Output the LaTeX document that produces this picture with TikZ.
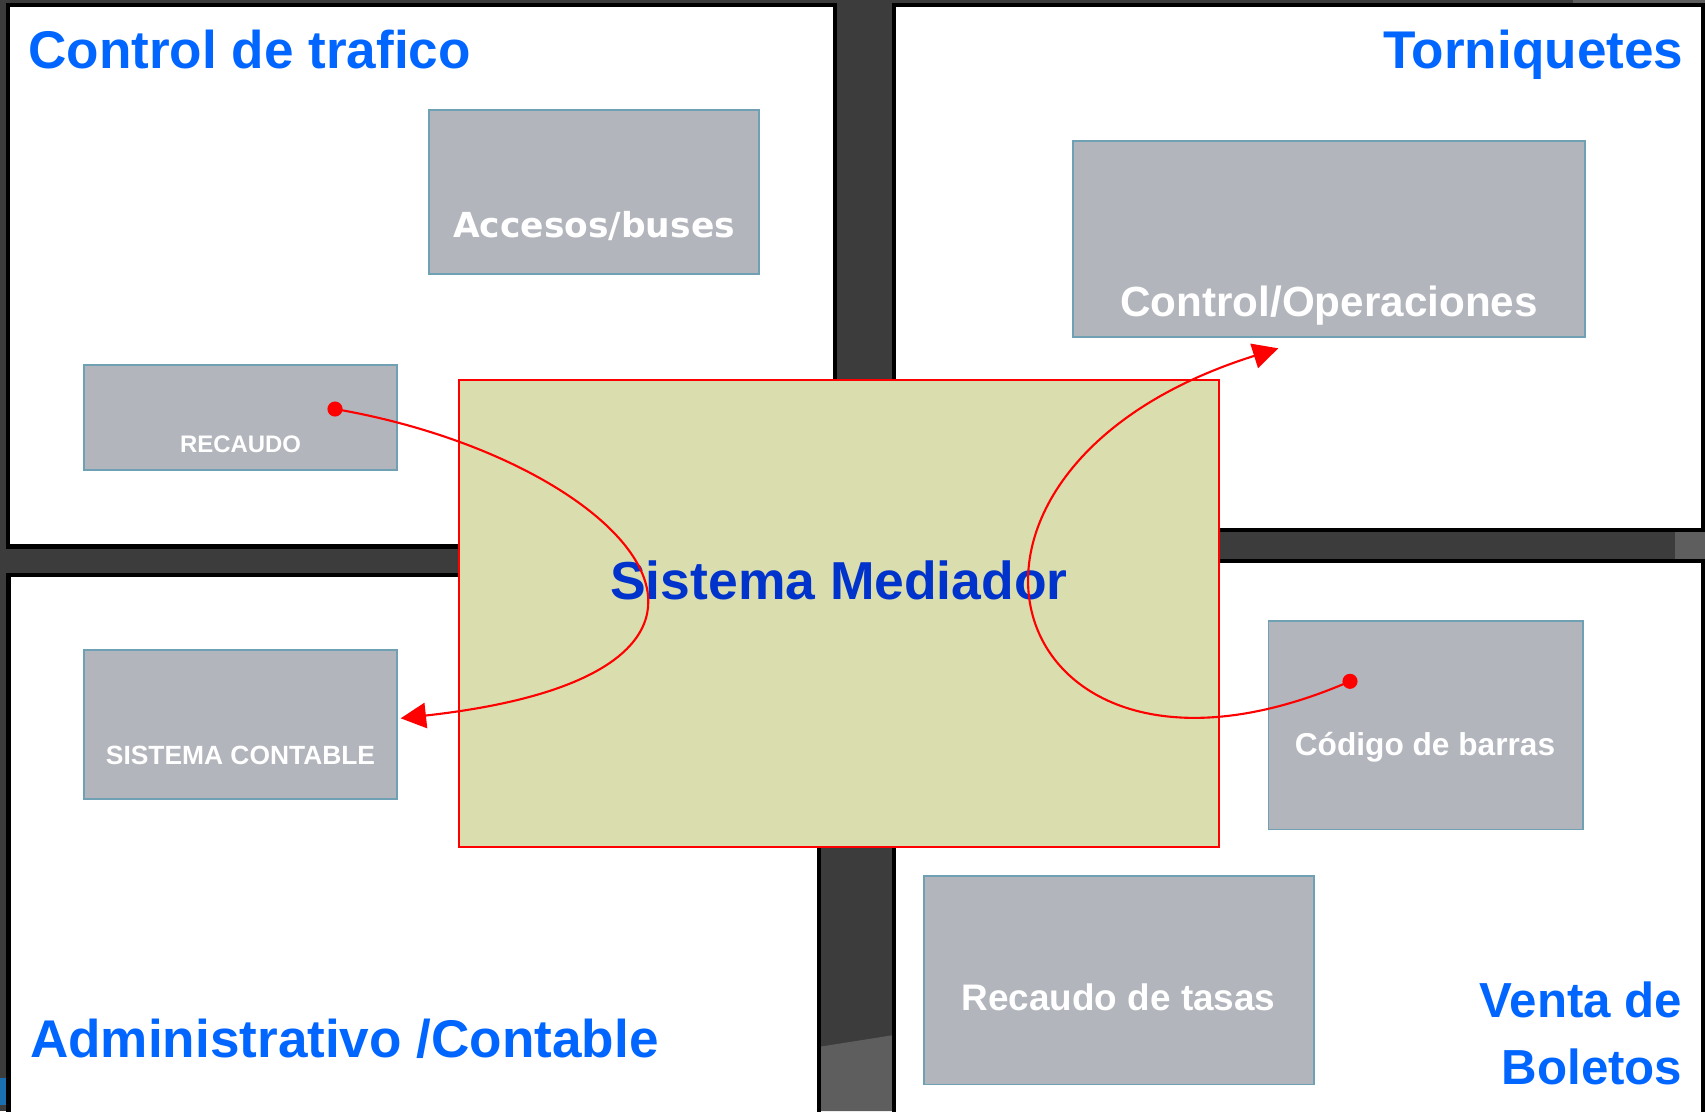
\documentclass[tikz,border=0pt]{standalone}
\usepackage{fontspec}
\setmainfont{Liberation Sans}
\newfontfamily\verdanafont{DejaVu Sans}
\usetikzlibrary{arrows.meta}

\definecolor{fondo}{HTML}{3C3C3C}
\definecolor{fondoclaro}{HTML}{5E5E5E}
\definecolor{fondoazul}{HTML}{1A6FB0}
\definecolor{azultitulo}{HTML}{0066FF}
\definecolor{azulmed}{HTML}{0033CC}
\definecolor{grismod}{HTML}{B2B5BC}
\definecolor{bordemod}{HTML}{6FA0B3}
\definecolor{verdemed}{HTML}{DADDAE}

\tikzset{
  panel/.style={draw=black, line width=1.15pt, fill=white},
  modulo/.style={draw=bordemod, line width=0.55pt, fill=grismod, inner sep=0pt},
  modlabel/.style={text=white, anchor=base, inner sep=0pt},
  zona/.style={text=azultitulo, inner sep=0pt, font=\bfseries\fontsize{15.1pt}{18pt}\selectfont},
  enlace/.style={draw=red, line width=0.6pt, -{Triangle[length=7.2pt, width=7.2pt]}},
  punto/.style={circle, fill=red, inner sep=0pt, minimum size=4.3pt},
}

\begin{document}
\begin{tikzpicture}[x=0.01cm, y=-0.01cm]
    % Page and background
    \useasboundingbox (0,0) rectangle (1705,1111);
    \clip (0,0) rectangle (1705,1111);
    \fill[fondo] (0,0) rectangle (1705,1111);
    \fill[fondoclaro] (1573,0) rectangle (1705,4);
    \fill[fondoclaro] (1675,530) rectangle (1705,562);
    \fill[fondoclaro] (818,1047) -- (894,1035) -- (894,1111) -- (818,1111) -- cycle;
    \fill[fondoazul] (0,1078) rectangle (8,1105);

    % Panels
    \draw[panel] (8,5.2) rectangle (834.7,546.5);     % Control de trafico
    \draw[panel] (894.3,5.3) rectangle (1703,530.3);  % Torniquetes
    \draw[panel] (8.5,575) rectangle (818.8,1125);    % Administrativo
    \draw[panel] (894,561.3) rectangle (1703,1125);   % Venta de boletos

    % Modules
    \node[modulo, minimum width=3.30cm, minimum height=1.64cm] (accesos) at (594,192) {};
    \node[modulo, minimum width=3.13cm, minimum height=1.045cm] (recaudo) at (240.5,417.7) {};
    \node[modulo, minimum width=3.13cm, minimum height=1.49cm] (contable) at (240.5,724.5) {};
    \node[modulo, minimum width=5.11cm, minimum height=1.96cm] (control) at (1329,238.6) {};
    \node[modulo, minimum width=3.14cm, minimum height=2.087cm] (codigo) at (1425.6,725.1) {};
    \node[modulo, minimum width=3.90cm, minimum height=2.086cm] (tasas) at (1119,980.1) {};

    \node[modlabel, font=\verdanafont\bfseries\fontsize{9.8pt}{12pt}\selectfont] (accesostxt) at (594,237) {Accesos/buses};
    \node[modlabel, font=\bfseries\fontsize{6.8pt}{8pt}\selectfont] (recaudotxt) at (240.5,452) {RECAUDO};
    \node[modlabel, font=\bfseries\fontsize{7.5pt}{9pt}\selectfont] (contabletxt) at (240.5,764.7) {SISTEMA CONTABLE};
    \node[modlabel, font=\bfseries\fontsize{12pt}{14pt}\selectfont] (controltxt) at (1329,316) {Control/Operaciones};
    \node[modlabel, font=\bfseries\fontsize{9pt}{11pt}\selectfont] (codigotxt) at (1425,755) {Código de barras};
    \node[modlabel, font=\bfseries\fontsize{10.5pt}{12pt}\selectfont] (tasastxt) at (1118.5,1010) {Recaudo de tasas};

    % Mediator in the middle
    \node[draw=red, line width=0.6pt, fill=verdemed, minimum width=7.60cm, minimum height=4.67cm] (mediador) at (839,613.5) {};
    \node[anchor=base, inner sep=0pt, text=azulmed, font=\bfseries\fontsize{15.2pt}{18pt}\selectfont] (mediadortxt) at (839,599.3) {Sistema Mediador};

    % Zone titles
    \node[zona, anchor=base west] (trafico) at (27.7,68) {Control de trafico};
    \node[zona, anchor=base east] (torniquetes) at (1684,68.4) {Torniquetes};
    \node[zona, anchor=base west] (admin) at (29.5,1057) {Administrativo /Contable};
    \node[zona, anchor=base east, align=right, font=\bfseries\fontsize{14pt}{18.8pt}\selectfont] (venta) at (1683,1084) {Venta de\\Boletos};

    % Links through the mediator
    \node[punto] (p1) at (335,409) {};
    \node[punto] (p2) at (1350,681.3) {};
    \coordinate (fin1) at (400.7,718.3);
    \coordinate (fin2) at (1278.3,348.3);
    \draw[enlace] (p1.center) .. controls (630.5,460) and (818,672) .. (fin1);
    \draw[enlace] (p2.center) .. controls (1000,833) and (888,471) .. (fin2);
\end{tikzpicture}
\end{document}
